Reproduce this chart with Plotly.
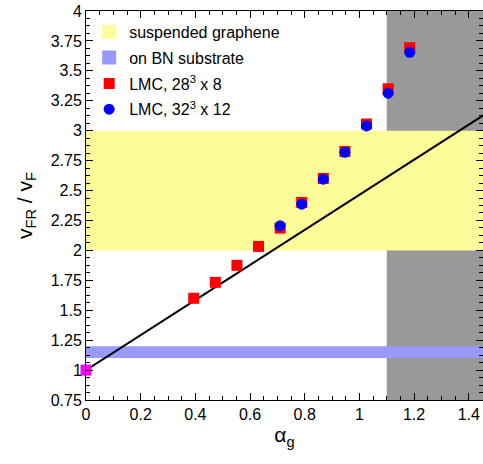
import plotly.graph_objects as go

# ---- data ----
alpha_28 = [0.394, 0.473, 0.552, 0.631, 0.710, 0.789, 0.868, 0.947, 1.026, 1.105, 1.184]
ratio_28 = [1.60, 1.733, 1.875, 2.033, 2.186, 2.40, 2.601, 2.826, 3.056, 3.35, 3.693]

alpha_32 = [0.710, 0.789, 0.868, 0.947, 1.026, 1.105, 1.184]
ratio_32 = [2.205, 2.386, 2.595, 2.82, 3.04, 3.313, 3.655]

alpha_free = [0.0]
ratio_free = [1.0]

line_alpha = [0.0, 1.46]
line_ratio = [1.0, 3.139]

suspended_band = [2.0, 3.0]
bn_band = [1.1, 1.2]
gray_alpha_start = 1.1

x_range = [0, 1.452]
y_range = [0.75, 4.0]

FONT = "Liberation Sans, Arial, sans-serif"

fig = go.Figure()

# legend-only entries for bands
fig.add_trace(go.Scatter(x=[None], y=[None], mode="markers", name="suspended graphene",
                         legendgroup="a",
                         marker=dict(symbol="square", size=14, color="#FDFC99")))
fig.add_trace(go.Scatter(x=[None], y=[None], mode="markers", name="on BN substrate",
                         legendgroup="b",
                         marker=dict(symbol="square", size=14, color="#9999FA")))

fig.add_trace(go.Scatter(x=line_alpha, y=line_ratio, mode="lines", showlegend=False,
                         line=dict(color="black", width=2)))

fig.add_trace(go.Scatter(x=alpha_28, y=ratio_28, mode="markers", name="LMC, 28<sup>3</sup> x 8",
                         legendgroup="c",
                         marker=dict(symbol="square", size=11, color="#FF0000")))
fig.add_trace(go.Scatter(x=alpha_32, y=ratio_32, mode="markers", name="LMC, 32<sup>3</sup> x 12",
                         legendgroup="d",
                         marker=dict(symbol="circle", size=11, color="#0000FF")))
fig.add_trace(go.Scatter(x=alpha_free, y=ratio_free, mode="markers", showlegend=False,
                         cliponaxis=False,
                         marker=dict(symbol="square", size=11, color="#FF00FF")))

shapes = [
    dict(type="rect", xref="x", yref="paper", x0=gray_alpha_start, x1=x_range[1] + 0.1,
         y0=0, y1=1, fillcolor="#999999", line=dict(width=0), layer="below"),
    dict(type="rect", xref="paper", yref="y", x0=0, x1=1,
         y0=suspended_band[0], y1=suspended_band[1], fillcolor="#FDFC99",
         line=dict(width=0), layer="below"),
    dict(type="rect", xref="paper", yref="y", x0=0, x1=1,
         y0=bn_band[0], y1=bn_band[1], fillcolor="#9999FA",
         line=dict(width=0), layer="below"),
]

fig.update_layout(
    width=483, height=464,
    margin=dict(l=86, r=0, t=11, b=64),
    plot_bgcolor="white", paper_bgcolor="white",
    font=dict(family=FONT, size=16, color="black"),
    shapes=shapes,
    showlegend=True,
    legend=dict(x=0.008, y=0.99, xanchor="left", yanchor="top",
                bgcolor="rgba(0,0,0,0)", font=dict(size=16),
                tracegroupgap=2),
    xaxis=dict(range=x_range, showgrid=False, zeroline=False,
               showline=True, linecolor="black", linewidth=1, mirror="ticks",
               ticks="inside", ticklen=7, tickcolor="black",
               tickmode="linear", tick0=0, dtick=0.2,
               minor=dict(ticks="inside", ticklen=4, dtick=0.05, tickcolor="black"),
               tickfont=dict(size=16),
               title=dict(text="α<sub>g</sub>", font=dict(size=21), standoff=4)),
    yaxis=dict(range=y_range, showgrid=False, zeroline=False,
               showline=True, linecolor="black", linewidth=1, mirror="ticks",
               ticks="inside", ticklen=7, tickcolor="black",
               tickmode="linear", tick0=0.75, dtick=0.25,
               minor=dict(ticks="inside", ticklen=4, dtick=0.0625, tickcolor="black"),
               tickfont=dict(size=16),
               title=dict(text="v<sub>FR</sub> / v<sub>F</sub>", font=dict(size=21), standoff=12)),
)

fig.write_html("out.html",
               config={"displayModeBar": False},
               post_script="document.body.style.margin='0';document.body.style.overflow='hidden';")
